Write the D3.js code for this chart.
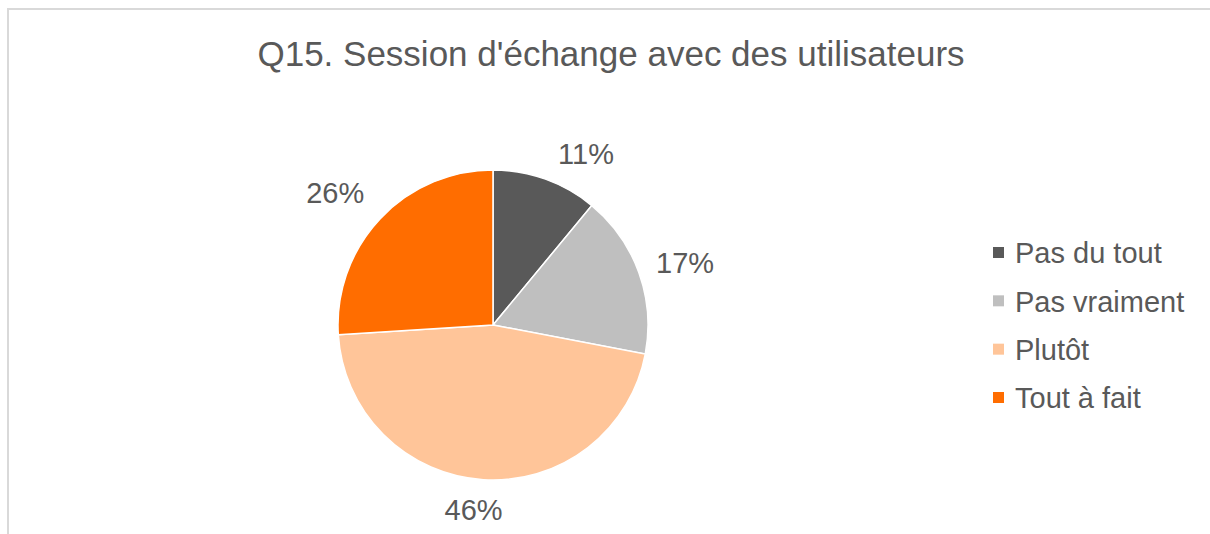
<!DOCTYPE html>
<html>
<head>
<meta charset="utf-8">
<script src="https://cdn.jsdelivr.net/npm/d3@7"></script>
<style>
	body {margin: 0; background: #fff}
	svg {display: block; font-family: "Liberation Sans", Arial, sans-serif}
</style>
</head>
<body>
<svg width="1210" height="534"></svg>
<script>
'use strict';
// chart data
let aCategories = ["Pas du tout", "Pas vraiment", "Plutôt", "Tout à fait"]
let aValues = [11, 17, 46, 26]
let aLabels = ["11%", "17%", "46%", "26%"]
let aColors = ["#595959", "#bfbfbf", "#ffc599", "#ff6d00"]
let sTitle = "Q15. Session d'échange avec des utilisateurs"

let eSvg = d3.select("svg"),
	dWidth = +eSvg.attr("width"),
	dHeight = +eSvg.attr("height")

let sText = "#595959"

// chart frame (clipped by the picture on the right and bottom)
eSvg.append("path")
	.attr("d", `M8,${dHeight} V9 H${dWidth}`)
	.attr("fill", "none")
	.attr("stroke", "#d9d9d9")
	.attr("stroke-width", 2)

eSvg.append("text")
	.attr("x", 611).attr("y", 66)
	.attr("text-anchor", "middle")
	.attr("font-size", 35)
	.attr("fill", sText)
	.text(sTitle)

// pie
let cx = 493, cy = 325, r = 155
let fColor = d3.scaleOrdinal().domain(aCategories).range(aColors)
let fPie = d3.pie().sort(null).value(d => d.value)
let fArc = d3.arc().innerRadius(0).outerRadius(r)

let tData = aCategories.map((c, i) => ({cat: c, value: aValues[i], label: aLabels[i]}))
let aArcs = fPie(tData)

let gPie = eSvg.append("g").attr("transform", `translate(${cx},${cy})`)
gPie.selectAll("path")
	.data(aArcs)
	.enter()
	.append("path")
	.attr("d", fArc)
	.attr("fill", d => fColor(d.data.cat))
	.attr("stroke", "#fff")
	.attr("stroke-width", 1.5)

// best-fit style label placement: nudge angle (deg) and distance from centre
let dLabelFit = {
	"Pas du tout": [8.7, 195],
	"Pas vraiment": [1.8, 202],
	"Plutôt": [2.4, 186],
	"Tout à fait": [-3.2, 206]}

gPie.selectAll("text")
	.data(aArcs)
	.enter()
	.append("text")
	.attr("transform", d => {
		let [dA, dR] = dLabelFit[d.data.cat]
		let a = (d.startAngle + d.endAngle) / 2 + dA * Math.PI / 180
		return `translate(${dR * Math.sin(a)},${-dR * Math.cos(a)})`})
	.attr("text-anchor", "middle")
	.attr("dy", "0.36em")
	.attr("font-size", 29)
	.attr("fill", sText)
	.text(d => d.data.label)

// legend
let fRow = d3.scalePoint().domain(aCategories).range([253, 398])
let gLegend = eSvg.append("g")
	.selectAll("g")
	.data(aCategories)
	.enter()
	.append("g")
	.attr("transform", d => `translate(993,${fRow(d)})`)

gLegend.append("rect")
	.attr("x", 0).attr("y", -6)
	.attr("width", 11).attr("height", 11)
	.attr("fill", d => fColor(d))

gLegend.append("text")
	.attr("x", 22)
	.attr("dy", "0.36em")
	.attr("font-size", 29)
	.attr("fill", sText)
	.text(d => d)
</script>
</body>
</html>
